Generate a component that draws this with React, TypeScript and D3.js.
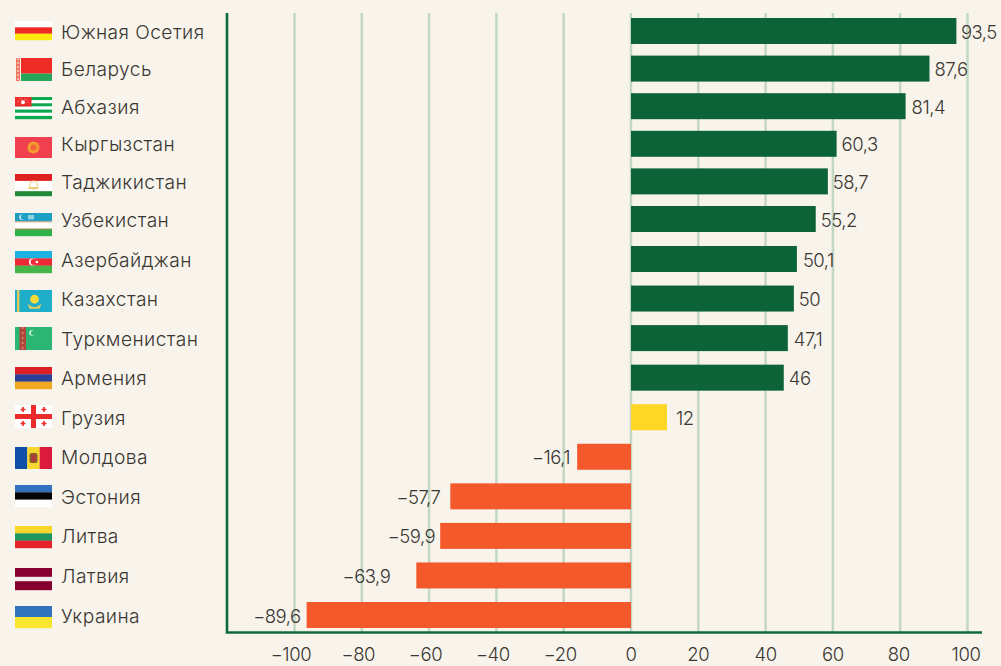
import React from "react";
import * as d3 from "d3";

const countries = ["Южная Осетия","Беларусь","Абхазия","Кыргызстан","Таджикистан","Узбекистан","Азербайджан","Казахстан","Туркменистан","Армения","Грузия","Молдова","Эстония","Литва","Латвия","Украина"];
const valueLabels = ["93,5","87,6","81,4","60,3","58,7","55,2","50,1","50","47,1","46","12","−16,1","−57,7","−59,9","−63,9","−89,6"];
// Bar lengths as drawn against the axis in the picture
const barValues = [96.7,88.7,81.6,61.1,58.5,54.9,49.3,48.4,46.6,45.4,10.7,-16,-53.7,-56.7,-63.8,-96.4];
const labelGaps = [4.5,5,6,5,5,5,6,5,6,5,9,7,10,5,26,6];
const flagKeys = ["os","by","ab","kg","tj","uz","az","kz","tm","am","ge","md","ee","lt","lv","ua"];
const flagTops = [21,58,97,137,174,213,251,290,327,367,405,447,485,526,568,606];
const flagBottoms = [40,81,119,158,196,236,273,312,350,389,428,469,507,548,590,628];

const BG = "#f8f4ec", GREEN = "#0c6337", AXIS = "#0f6b3e", ORANGE = "#f3592b", YELLOW = "#fdd626", GRID = "#c3d8c2", INK = "#3a3733";
const FONT = "Inter, sans-serif";

const stripes = (w: number, h: number, cols: string[], fr?: number[]) => {
  const f = fr ?? cols.map(() => 1);
  const sum = d3.sum(f);
  let y = 0;
  return cols.map((c, i) => {
    const hh = (f[i] / sum) * h;
    const r = <rect key={i} x={0} y={y} width={w} height={hh + 0.2} fill={c} />;
    y += hh;
    return r;
  });
};

function Flag({ k, w, h }: { k: string; w: number; h: number }) {
  switch (k) {
    case "os": return <>{stripes(w, h, ["#ffffff", "#ee2a24", "#fde910"])}</>;
    case "by": return <>
      <rect x={6} width={w - 6} height={h * 0.68} fill="#ee2b25" />
      <rect x={6} y={h * 0.68} width={w - 6} height={h * 0.32} fill="#26a65b" />
      <rect x={1} width={4} height={h} fill="#f2775f" />
      <path d={`M3 0V${h}`} stroke="#fbd3c6" strokeWidth={1.4} strokeDasharray="2 2" />
    </>;
    case "ab": return <>
      {stripes(w, h, ["#0aa84f", "#fff", "#0aa84f", "#fff", "#0aa84f", "#fff", "#0aa84f"])}
      <rect width={16.5} height={h * 0.43} fill="#ee2b2b" />
      <circle cx={8} cy={h * 0.24} r={2} fill="#fff" />
      {[[4, 3], [6, 2], [10, 2], [12, 3], [13, 5], [3, 5]].map(([a, b], i) => <circle key={i} cx={a} cy={b} r={0.5} fill="#fbd3c6" />)}
    </>;
    case "kg": return <>
      <rect width={w} height={h} fill="#f0404f" />
      <circle cx={w / 2} cy={h / 2} r={6} fill="#f59a2e" />
      <circle cx={w / 2} cy={h / 2} r={3} fill="#f0683a" />
    </>;
    case "tj": return <>
      {stripes(w, h, ["#e0201f", "#ffffff", "#1f8a3a"], [2, 3, 1.4])}
      <circle cx={w / 2} cy={h * 0.5} r={4} fill="none" stroke="#f0d58a" strokeWidth={1.2} />
      <rect x={w / 2 - 5} y={h * 0.6} width={10} height={1.6} fill="#e6c860" />
    </>;
    case "uz": return <>
      {stripes(w, h, ["#1ea0c4", "#ffffff", "#2fb24c"], [2, 1.7, 1.7])}
      <rect y={h * 0.37} width={w} height={0.8} fill="#d8805a" />
      <rect y={h * 0.68} width={w} height={0.8} fill="#d8805a" />
      <circle cx={7} cy={4} r={2.6} fill="#fff" />
      <circle cx={8} cy={4} r={2.4} fill="#1ea0c4" />
      <rect x={13} y={2} width={6} height={4.5} fill="#8fd0e2" />
    </>;
    case "az": return <>
      {stripes(w, h, ["#1cb2e2", "#ee2b35", "#43b549"])}
      <circle cx={w / 2 - 1} cy={h / 2} r={3.6} fill="#fff" />
      <circle cx={w / 2} cy={h / 2} r={2.9} fill="#ee2b35" />
      <circle cx={w / 2 + 3.4} cy={h / 2} r={1.3} fill="#fff" />
    </>;
    case "kz": return <>
      <rect width={w} height={h} fill="#1eaec9" />
      <rect x={2} width={2.4} height={h} fill="#e3c95a" />
      <circle cx={w / 2 + 1} cy={h * 0.42} r={4.4} fill="#f8da3a" />
      <path d={`M${w / 2 - 6} ${h * 0.6}Q${w / 2 + 1} ${h * 0.95} ${w / 2 + 8} ${h * 0.6}L${w / 2 + 6} ${h * 0.85}L${w / 2 - 4} ${h * 0.85}Z`} fill="#e8cc55" />
    </>;
    case "tm": return <>
      <rect width={w} height={h} fill="#2bb673" />
      <rect x={4.5} width={6.5} height={h} fill="#b0473c" />
      <path d={`M7.7 0V${h}`} stroke="#e09a80" strokeWidth={1.2} strokeDasharray="2 3" />
      <circle cx={17} cy={6} r={2.8} fill="#d8f0df" />
      <circle cx={18} cy={6} r={2.2} fill="#2bb673" />
    </>;
    case "am": return <>{stripes(w, h, ["#dd1f26", "#2c3f97", "#f0a722"])}</>;
    case "ge": return <>
      <rect width={w} height={h} fill="#fff" />
      <rect x={w / 2 - 2.5} width={5} height={h} fill="#ee2b2b" />
      <rect y={h / 2 - 2.5} width={w} height={5} fill="#ee2b2b" />
      {[[8, 4.5], [29, 4.5], [8, h - 4.5], [29, h - 4.5]].map(([x, y], i) => (
        <path key={i} d={`M${x - 2.5} ${y}H${x + 2.5}M${x} ${y - 2.5}V${y + 2.5}`} stroke="#ee2b2b" strokeWidth={1.7} />
      ))}
    </>;
    case "md": return <>
      <rect width={w / 3} height={h} fill="#0d4ea6" />
      <rect x={w / 3} width={w / 3} height={h} fill="#f6d72e" />
      <rect x={(2 * w) / 3} width={w / 3} height={h} fill="#dc1a3c" />
      <rect x={w / 2 - 4} y={h / 2 - 5} width={8} height={10} rx={2} fill="#8a5a30" />
      <rect x={w / 2 - 2} y={h / 2 - 3} width={4} height={6} fill="#b23a3a" />
    </>;
    case "ee": return <>{stripes(w, h, ["#2f73be", "#050505", "#ffffff"])}</>;
    case "lt": return <>{stripes(w, h, ["#fad62d", "#1f9660", "#e6222a"])}</>;
    case "lv": return <>{stripes(w, h, ["#85002f", "#f4ecea", "#85002f"], [2, 1, 2])}</>;
    case "ua": return <>{stripes(w, h, ["#2f74bd", "#fae531"])}</>;
    default: return null;
  }
}

export default function App() {
  const x = d3.scaleLinear().domain([-100, 100]).range([294.5, 967.5]);
  // Row spacing changes after the sixth row in the reference
  const y = d3.scaleLinear().domain([0, 5, 6, 15]).range([31, 219, 259, 615]);
  const ticks = x.ticks(10);
  const barH = 26;
  const colour = (v: number) => (v < 0 ? ORANGE : v < 20 ? YELLOW : GREEN);

  return (
    <svg width={1001} height={666} viewBox="0 0 1001 666"
      style={{ position: "fixed", left: 0, top: 0, display: "block", background: BG, fontFamily: FONT }}>
      <rect width={1001} height={666} fill={BG} />
      {ticks.map((t) => (
        <line key={t} x1={x(t)} x2={x(t)} y1={13} y2={632} stroke={GRID} strokeWidth={2.5} />
      ))}
      {barValues.map((v, i) => {
        const x0 = x(Math.min(0, v)), x1 = x(Math.max(0, v));
        return <rect key={i} x={x0} y={y(i) - barH / 2} width={x1 - x0} height={barH} fill={colour(v)} />;
      })}
      <path d="M227 13V632.5H982" fill="none" stroke={AXIS} strokeWidth={2.6} />
      {ticks.map((t) => (
        <text key={t} x={x(t) - (t < 0 ? 3.5 : t >= 80 ? 1.5 : 0)} y={654} textAnchor="middle" dominantBaseline="central"
          fontSize={18.5} fontWeight={300} letterSpacing={-0.4} fill={INK}>
          {d3.format("d")(t).replace("-", "−")}
        </text>
      ))}
      {valueLabels.map((l, i) => {
        const v = barValues[i];
        const gap = labelGaps[i];
        return (
          <text key={i} x={x(v) + (v < 0 ? -gap : gap)} y={y(i) + 0.5} textAnchor={v < 0 ? "end" : "start"}
            dominantBaseline="central" fontSize={18.5} fontWeight={300} letterSpacing={-0.5} fill={INK}>
            {l}
          </text>
        );
      })}
      {countries.map((c, i) => (
        <text key={c} x={61} y={y(i) + 0.5} dominantBaseline="central" fontSize={19.2} fontWeight={300} letterSpacing={0.42} fill={INK}>
          {c}
        </text>
      ))}
      {flagKeys.map((k, i) => (
        <g key={k} transform={`translate(15,${flagTops[i]})`}>
          <Flag k={k} w={37} h={flagBottoms[i] - flagTops[i]} />
        </g>
      ))}
    </svg>
  );
}
